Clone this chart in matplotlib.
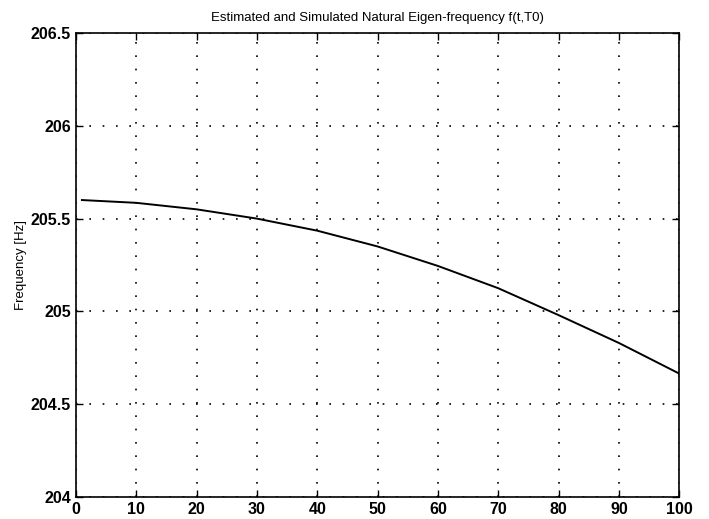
import matplotlib
matplotlib.use("Agg")
import matplotlib.pyplot as plt

plt.rcParams['font.family'] = ['Liberation Sans', 'DejaVu Sans']

# time
t = [1, 10, 20, 30, 40, 50, 60, 70, 80, 90, 100]
freq = [205.60, 205.585, 205.55, 205.50, 205.435, 205.35, 205.245, 205.125, 204.98, 204.83, 204.665]

xticks = [0, 10, 20, 30, 40, 50, 60, 70, 80, 90, 100]
yticks = [204, 204.5, 205, 205.5, 206, 206.5]
ytick_labels = ['204', '204.5', '205', '205.5', '206', '206.5']

fig = plt.figure(figsize=(7.09, 5.19), dpi=100)
ax = fig.add_axes([0.107, 0.0424, 0.851, 0.894])

ax.plot(t, freq, color='black', linewidth=1.4)

ax.set_xlim(0, 100)
ax.set_ylim(204, 206.5)
ax.set_xticks(xticks)
ax.set_yticks(yticks)
ax.set_yticklabels(ytick_labels)
ax.grid(True, linestyle=(0, (1, 7)), color='black', linewidth=1.2)
ax.tick_params(direction='in', top=True, right=True, length=5, labelsize=11.5, width=1)
for lbl in ax.get_xticklabels() + ax.get_yticklabels():
    lbl.set_fontweight('bold')
for s in ax.spines.values():
    s.set_linewidth(1.2)

ax.set_ylabel('Frequency [Hz]', fontsize=9.5, labelpad=3)
ax.set_title('Estimated and Simulated Natural Eigen-frequency f(t,T0)', fontsize=9.5, pad=9)

fig.savefig('out.png', dpi=100)
